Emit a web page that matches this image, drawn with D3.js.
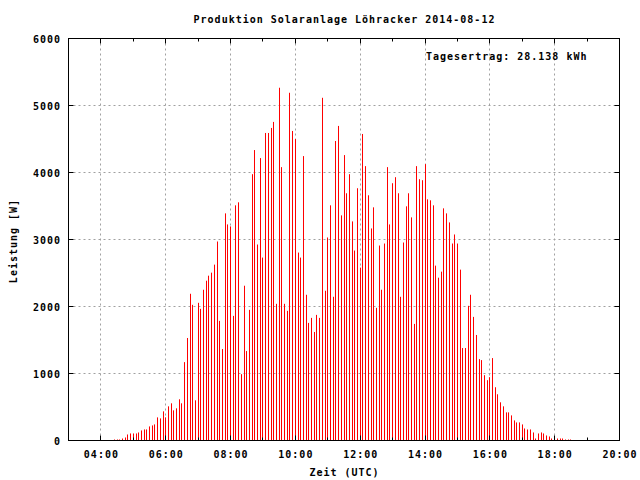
<!DOCTYPE html>
<html>
<head>
<meta charset="utf-8">
<script src="https://cdn.jsdelivr.net/npm/d3@7"></script>
<style>
  html, body { margin: 0; padding: 0; background: #fff; }
  svg { display: block; }
  text { font-family: "DejaVu Sans Mono", monospace; font-weight: bold; font-size: 10px; letter-spacing: 1px; fill: #000; }
</style>
</head>
<body>
<svg id="chart" width="640" height="480"></svg>
<script>
const title = "Produktion Solaranlage Löhracker 2014-08-12";
const xTitle = "Zeit (UTC)";
const yTitle = "Leistung [W]";
const yieldLabel = "Tagesertrag: 28.138 kWh";
const dateStr = "2014-08-12";

const times = [
  "04:25","04:30","04:35","04:40","04:45","04:50","04:55","05:00","05:05","05:10","05:15","05:20","05:25","05:30","05:35","05:40","05:45","05:50","05:55",
  "06:00","06:05","06:10","06:15","06:20","06:25","06:30","06:35","06:40","06:45","06:50","06:55",
  "07:00","07:05","07:10","07:15","07:20","07:25","07:30","07:35","07:40","07:45","07:50","07:55",
  "08:00","08:05","08:10","08:15","08:20","08:25","08:30","08:35","08:40","08:45","08:50","08:55",
  "09:00","09:05","09:10","09:15","09:20","09:25","09:30","09:35","09:40","09:45","09:50","09:55",
  "10:00","10:05","10:10","10:15","10:20","10:25","10:30","10:35","10:40","10:45","10:50","10:55",
  "11:00","11:05","11:10","11:15","11:20","11:25","11:30","11:35","11:40","11:45","11:50","11:55",
  "12:00","12:05","12:10","12:15","12:20","12:25","12:30","12:35","12:40","12:45","12:50","12:55",
  "13:00","13:05","13:10","13:15","13:20","13:25","13:30","13:35","13:40","13:45","13:50","13:55",
  "14:00","14:05","14:10","14:15","14:20","14:25","14:30","14:35","14:40","14:45","14:50","14:55",
  "15:00","15:05","15:10","15:15","15:20","15:25","15:30","15:35","15:40","15:45","15:50","15:55",
  "16:00","16:05","16:10","16:15","16:20","16:25","16:30","16:35","16:40","16:45","16:50","16:55",
  "17:00","17:05","17:10","17:15","17:20","17:25","17:30","17:35","17:40","17:45","17:50","17:55",
  "18:00","18:05","18:10","18:15","18:20","18:25","18:30"
];

const power = [
  15,15,15,30,45,90,105,105,105,120,150,165,165,210,225,240,345,330,435,
  345,510,555,450,480,615,555,1170,1530,2190,2025,600,
  2055,1965,2250,2385,2460,2505,2625,2970,1785,1365,3390,3225,
  3195,1860,3510,3555,990,2310,1335,1950,3975,4335,2925,4215,
  2730,4590,4590,4665,4755,2040,5265,4080,2040,1935,5190,4620,
  4500,2805,2730,4245,2175,1755,1830,1620,1875,1830,5115,2235,
  3030,3510,2145,4470,4695,3360,4260,3690,3975,3270,2835,3765,
  2580,4575,4095,3660,3165,3480,1980,2910,2250,2940,4080,3225,
  3840,3930,3690,2145,2955,3495,3690,3330,1740,4095,3900,3885,
  4125,3600,3585,3510,2610,2430,2520,3465,3390,3255,2940,3075,
  2940,2550,1380,1380,2010,2175,1845,1575,1215,1200,975,900,
  945,1230,795,690,570,510,420,420,375,300,270,270,
  240,180,165,165,120,30,105,120,105,75,60,30,
  60,30,30,30,15,15,15
];

const xDomain = ["03:00", "20:00"];
const yTicks = [0, 1000, 2000, 3000, 4000, 5000, 6000];

const parse = d3.utcParse("%Y-%m-%d %H:%M");
const toDate = t => parse(dateStr + " " + t);
const data = times.map((t, i) => ({ t: toDate(t), v: power[i] }));

const L = 68.5, R = 619.5, T = 38.5, B = 440.5;
const svg = d3.select("#chart");

const x = d3.scaleUtc().domain(xDomain.map(toDate)).range([L, R]);
const y = d3.scaleLinear().domain([0, 6000]).range([B, T]);

const majorX = x.ticks(d3.utcHour.every(2));
const minorX = x.ticks(d3.utcHour.every(1));
const snap = v => Math.round(v - 0.5) + 0.5;

// grid
const grid = svg.append("g").attr("stroke", "#a0a0a0").attr("stroke-width", 1).attr("stroke-dasharray", "2,3").attr("fill", "none");
grid.selectAll("line.v").data(majorX.filter(d => x(d) > L + 1 && x(d) < R - 1)).join("line")
  .attr("x1", d => snap(x(d))).attr("x2", d => snap(x(d))).attr("y1", B).attr("y2", T);
grid.selectAll("line.h").data(yTicks.filter(d => d > 0 && d < 6000)).join("line")
  .attr("x1", L).attr("x2", R).attr("y1", d => snap(y(d))).attr("y2", d => snap(y(d)));

// bars (impulses)
svg.append("g").attr("stroke", "#ff0000").attr("stroke-width", 1)
  .selectAll("line").data(data).join("line")
  .attr("x1", d => snap(x(d.t))).attr("x2", d => snap(x(d.t)))
  .attr("y1", y(0) - 0.5).attr("y2", d => y(d.v));

// ticks
const tk = svg.append("g").attr("stroke", "#000").attr("stroke-width", 1);
minorX.forEach(d => {
  const len = majorX.some(m => +m === +d) ? 5 : 3;
  const xx = snap(x(d));
  tk.append("line").attr("x1", xx).attr("x2", xx).attr("y1", B).attr("y2", B - len);
  tk.append("line").attr("x1", xx).attr("x2", xx).attr("y1", T).attr("y2", T + len);
});
yTicks.forEach(d => {
  const yy = snap(y(d));
  tk.append("line").attr("x1", L).attr("x2", L + 5).attr("y1", yy).attr("y2", yy);
  tk.append("line").attr("x1", R).attr("x2", R - 5).attr("y1", yy).attr("y2", yy);
});

// border
svg.append("rect").attr("x", L).attr("y", T).attr("width", R - L).attr("height", B - T)
  .attr("fill", "none").attr("stroke", "#000").attr("stroke-width", 1);

// tick labels
const fmt = d3.utcFormat("%H:%M");
svg.append("g").selectAll("text").data(majorX).join("text")
  .attr("x", d => x(d) + 0.5).attr("y", 458).attr("text-anchor", "middle").text(d => fmt(d));
svg.append("g").selectAll("text").data(yTicks).join("text")
  .attr("x", 61).attr("y", d => y(d) + 4).attr("text-anchor", "end").text(d => d);

// titles
svg.append("text").attr("x", (L + R) / 2 + 0.5).attr("y", 23).attr("text-anchor", "middle").text(title);
svg.append("text").attr("x", (L + R) / 2 + 0.5).attr("y", 476).attr("text-anchor", "middle").text(xTitle);
svg.append("text").attr("transform", "translate(17,241) rotate(-90)").attr("text-anchor", "middle").text(yTitle);
svg.append("text").attr("x", 426).attr("y", 60).attr("text-anchor", "start").text(yieldLabel);
</script>
</body>
</html>
